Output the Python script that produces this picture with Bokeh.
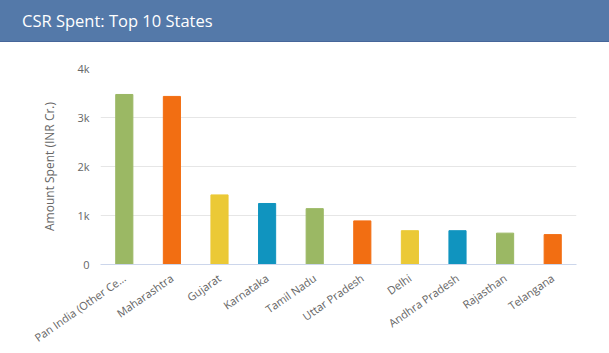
import math
from bokeh.plotting import figure
from bokeh.models import Range1d, FixedTicker, ColumnDataSource, Div
from bokeh.layouts import column
from bokeh.embed import file_html
from bokeh.resources import INLINE

title_text = "CSR Spent: Top 10 States"
states = ["Pan India (Other Ce…", "Maharashtra", "Gujarat", "Karnataka", "Tamil Nadu",
          "Uttar Pradesh", "Delhi", "Andhra Pradesh", "Rajasthan", "Telangana"]
amounts = [3470, 3430, 1420, 1245, 1140, 890, 690, 690, 640, 610]
colors = ["#9bb864", "#f26e12", "#ebc936", "#1094bf", "#9bb864",
          "#f26e12", "#ebc936", "#1094bf", "#9bb864", "#f26e12"]
y_ticks = [0, 1000, 2000, 3000, 4000]
y_tick_labels = ["0", "1k", "2k", "3k", "4k"]
y_title = "Amount Spent (INR Cr.)"

FONT = "Open Sans"
HEADER_BG = "#5479a9"
BL, BR = 100, 33

# Header bar
header = Div(text=title_text, width=609, height=42, margin=0,
             styles={"background-color": HEADER_BG, "color": "white",
                     "font-family": FONT, "font-size": "16.5px",
                     "padding-left": "22px", "line-height": "41px",
                     "box-sizing": "border-box",
                     "border-bottom": "1px solid #46669a"})

# Chart
src = ColumnDataSource(dict(states=states, amounts=amounts, colors=colors))
p = figure(width=609, height=311, x_range=states, y_range=Range1d(0, 4000),
           toolbar_location=None, output_backend="svg",
           min_border_top=26, min_border_bottom=89, min_border_left=BL, min_border_right=BR)
p.outline_line_color = None
p.vbar(x="states", top="amounts", width=0.36, color="colors", source=src)

p.xgrid.grid_line_color = None
p.ygrid.grid_line_color = "#e6e6e6"
p.yaxis.ticker = FixedTicker(ticks=y_ticks)
p.yaxis.major_label_overrides = {t: l for t, l in zip(y_ticks, y_tick_labels)}
p.yaxis.axis_line_color = None
p.yaxis.major_tick_line_color = None
p.yaxis.minor_tick_line_color = None
p.yaxis.major_tick_out = 0
p.yaxis.major_label_standoff = 11
p.yaxis.major_label_text_font = FONT
p.yaxis.major_label_text_font_size = "11px"
p.yaxis.major_label_text_color = "#666666"
p.yaxis.axis_label = y_title
p.yaxis.axis_label_text_font = FONT
p.yaxis.axis_label_text_font_size = "12px"
p.yaxis.axis_label_text_font_style = "normal"
p.yaxis.axis_label_text_color = "#666666"
p.yaxis.axis_label_standoff = 16

p.xaxis.axis_line_color = "#ccd6eb"
p.xaxis.major_tick_line_color = None
p.xaxis.minor_tick_line_color = None
p.xaxis.major_tick_out = 0
p.xaxis.major_label_orientation = 35 * math.pi / 180
p.xaxis.major_label_standoff = 12
p.xaxis.major_label_text_font = FONT
p.xaxis.major_label_text_font_size = "11px"
p.xaxis.major_label_text_color = "#666666"

layout = column(header, p, spacing=0)
open("out.html", "w").write(file_html(layout, INLINE))
